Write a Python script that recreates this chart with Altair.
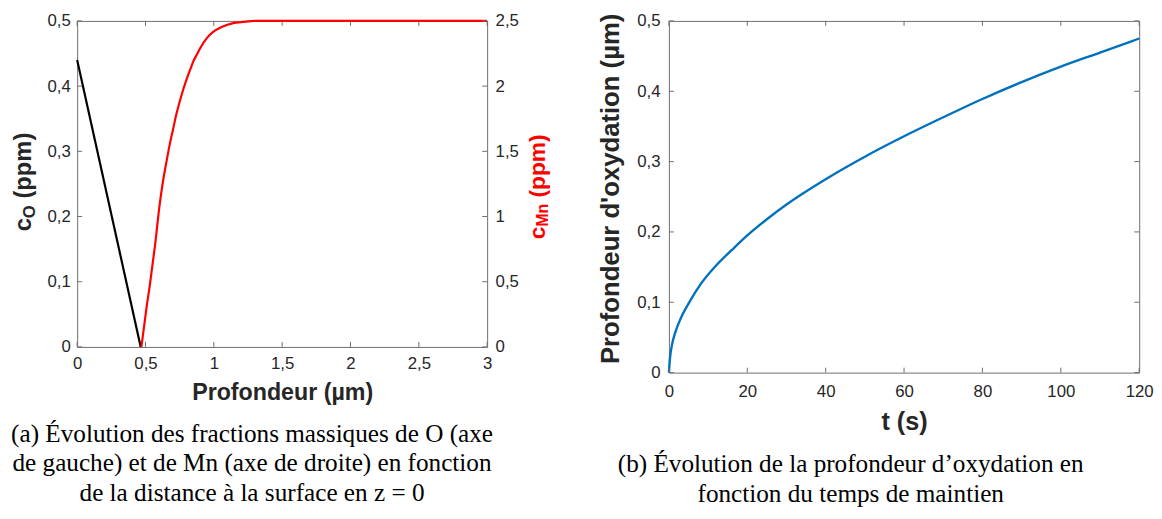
import altair as alt
import pandas as pd

# ---------------- Panel (a) data ----------------
depth_O = [0.0, 0.465]
conc_O = [0.44, 0.0]
depth_Mn = [0.47, 0.49, 0.51, 0.53, 0.55, 0.57, 0.60, 0.625, 0.65, 0.675,
            0.70, 0.725, 0.75, 0.775, 0.80, 0.825, 0.85, 0.875, 0.90, 0.95,
            1.00, 1.05, 1.10, 1.15, 1.20, 1.30, 1.40, 3.00]
conc_Mn = [0.0, 0.16, 0.32, 0.46, 0.62, 0.78, 1.06, 1.25, 1.40, 1.54,
           1.66, 1.78, 1.88, 1.97, 2.05, 2.12, 2.19, 2.24, 2.29, 2.37,
           2.42, 2.45, 2.47, 2.485, 2.49, 2.50, 2.50, 2.50]
xa_ticks = [0, 0.5, 1, 1.5, 2, 2.5, 3]
yO_ticks = [0, 0.1, 0.2, 0.3, 0.4, 0.5]
yMn_ticks = [0, 0.5, 1, 1.5, 2, 2.5]

# ---------------- Panel (b) data ----------------
time_s = [0, 0.3, 0.8, 1.5, 3, 5, 8, 12, 16, 20, 25, 30, 40, 50, 60, 70, 80,
          90, 100, 110, 120]
depth_ox = [0, 0.022, 0.040, 0.055, 0.077, 0.098, 0.125, 0.152, 0.174, 0.195,
            0.218, 0.239, 0.275, 0.307, 0.336, 0.363, 0.389, 0.413, 0.435,
            0.455, 0.475]
xb_ticks = [0, 20, 40, 60, 80, 100, 120]
yb_ticks = [0, 0.1, 0.2, 0.3, 0.4, 0.5]

caption_a = ["(a) Évolution des fractions massiques de O (axe",
             "de gauche) et de Mn (axe de droite) en fonction",
             "de la distance à la surface en z = 0"]
caption_b = ["(b) Évolution de la profondeur d’oxydation en",
             "fonction du temps de maintien"]

AX = "#262626"
BOX = "#6e6e6e"
TICK = 5
LBL = "replace(datum.label, '.', ',')"

W1, H1 = 415, 330
W2, H2 = 476, 356

one = pd.DataFrame({"k": [0]})

# ---------------- Panel (a) ----------------
xs_a = alt.Scale(domain=[0, 3], nice=False, zero=False)
x_a = alt.X("d:Q", scale=xs_a,
            axis=alt.Axis(values=xa_ticks, format=".1~f", labelExpr=LBL,
                          title="Profondeur (µm)", titleFontSize=23.5,
                          labelPadding=9, titlePadding=9))
yO_scale = alt.Scale(domain=[0, 0.5], nice=False, zero=False)
y_O = alt.Y("c:Q", scale=yO_scale,
            axis=alt.Axis(orient="left", values=yO_ticks, format=".1~f",
                          labelExpr=LBL, title=None, labelPadding=7))
yMn_scale = alt.Scale(domain=[0, 2.5], nice=False, zero=False)
y_Mn = alt.Y("m:Q", scale=yMn_scale,
             axis=alt.Axis(orient="right", values=yMn_ticks, format=".1~f",
                           labelExpr=LBL, title=None, labelPadding=8))

df_O = pd.DataFrame({"d": depth_O, "c": conc_O})
df_Mn = pd.DataFrame({"d": depth_Mn, "m": conc_Mn})
df_xa = pd.DataFrame({"d": xa_ticks})
df_yO = pd.DataFrame({"c": yO_ticks})
df_yMn = pd.DataFrame({"m": yMn_ticks})

line_O = alt.Chart(df_O).mark_line(color="black", strokeWidth=2.2).encode(x=x_a, y=y_O)
tk_bot_a = alt.Chart(df_xa).mark_rule(color=BOX).encode(x=x_a, y=alt.value(H1), y2=alt.value(H1 - TICK))
tk_top_a = alt.Chart(df_xa).mark_rule(color=BOX).encode(x=x_a, y=alt.value(0), y2=alt.value(TICK))
tk_left_a = alt.Chart(df_yO).mark_rule(color=BOX).encode(y=y_O, x=alt.value(0), x2=alt.value(TICK))


def vtext(txt, x, y, size, color, align="left"):
    return alt.Chart(one).mark_text(
        text=txt, angle=270, align=align, baseline="alphabetic",
        font="Liberation Sans", fontWeight="bold", fontSize=size, color=color
    ).encode(x=alt.value(x), y=alt.value(y))


t_c = vtext("c", -47, 213, 24, AX)
t_O = vtext("O", -43, 199.7, 17, AX)
t_ppm = vtext("(ppm)", -47, 179.8, 24, AX)

group_O = alt.layer(line_O, tk_bot_a, tk_top_a, tk_left_a, t_c, t_O, t_ppm)

line_Mn = alt.Chart(df_Mn).mark_line(color="#ff0000", strokeWidth=2.2,
                                     interpolate="monotone").encode(x=x_a, y=y_Mn)
tk_right_a = alt.Chart(df_yMn).mark_rule(color=BOX).encode(y=y_Mn, x=alt.value(W1 - TICK), x2=alt.value(W1))
r_c = vtext("c", W1 + 59, 221, 23, "#ff0000")
r_Mn = vtext("Mn", W1 + 62, 208.2, 16, "#ff0000")
r_ppm = vtext("(ppm)", W1 + 59, 178.7, 23, "#ff0000")
group_Mn = alt.layer(line_Mn, tk_right_a, r_c, r_Mn, r_ppm)

panel_a = alt.layer(group_O, group_Mn).resolve_scale(y="independent").properties(
    width=W1, height=H1,
    title=alt.TitleParams(text=caption_a, orient="bottom", anchor="middle", frame="group",
                          dx=-30.5, offset=19, font="Liberation Serif", fontSize=25.5,
                          fontWeight="normal", color="black", lineHeight=29.5))

# ---------------- Panel (b) ----------------
xs_b = alt.Scale(domain=[0, 120], nice=False, zero=False)
x_b = alt.X("t:Q", scale=xs_b,
            axis=alt.Axis(values=xb_ticks, title="t (s)", titleFontSize=25.5,
                          labelPadding=11.5, titlePadding=10))
ys_b = alt.Scale(domain=[0, 0.5], nice=False, zero=False)
y_b = alt.Y("p:Q", scale=ys_b,
            axis=alt.Axis(values=yb_ticks, format=".1~f", labelExpr=LBL, title=None,
                          labelPadding=9))

df_b = pd.DataFrame({"t": time_s, "p": depth_ox})
df_xb = pd.DataFrame({"t": xb_ticks})
df_yb = pd.DataFrame({"p": yb_ticks})

line_b = alt.Chart(df_b).mark_line(color="#0072BD", strokeWidth=2.4,
                                   interpolate="monotone").encode(x=x_b, y=y_b)
tk_bot_b = alt.Chart(df_xb).mark_rule(color=BOX).encode(x=x_b, y=alt.value(H2), y2=alt.value(H2 - TICK))
tk_top_b = alt.Chart(df_xb).mark_rule(color=BOX).encode(x=x_b, y=alt.value(0), y2=alt.value(TICK))
tk_left_b = alt.Chart(df_yb).mark_rule(color=BOX).encode(y=y_b, x=alt.value(0), x2=alt.value(TICK))
tk_right_b = alt.Chart(df_yb).mark_rule(color=BOX).encode(y=y_b, x=alt.value(W2 - TICK), x2=alt.value(W2))
title_b = vtext("Profondeur d'oxydation (µm)", -51, H2 / 2 - 8, 26, AX, align="center")

panel_b = alt.layer(line_b, tk_bot_b, tk_top_b, tk_left_b, tk_right_b, title_b).properties(
    width=W2, height=H2,
    title=alt.TitleParams(text=caption_b, orient="bottom", anchor="middle", frame="group",
                          dx=-54, offset=18, font="Liberation Serif", fontSize=25.5,
                          fontWeight="normal", color="black", lineHeight=29.5))

chart = alt.hconcat(panel_a, panel_b, spacing=45).properties(
    padding={"left": 2, "top": 0, "right": 0, "bottom": 0}
).configure_view(stroke=BOX, strokeWidth=1).configure_axis(
    labelFont="Liberation Sans", labelFontSize=17, labelColor=AX, labelFlush=False,
    titleFont="Liberation Sans", titleFontWeight="bold", titleColor=AX,
    domain=False, ticks=False, grid=False
)

chart.save("out.html", embed_options={"renderer": "svg", "actions": False})
